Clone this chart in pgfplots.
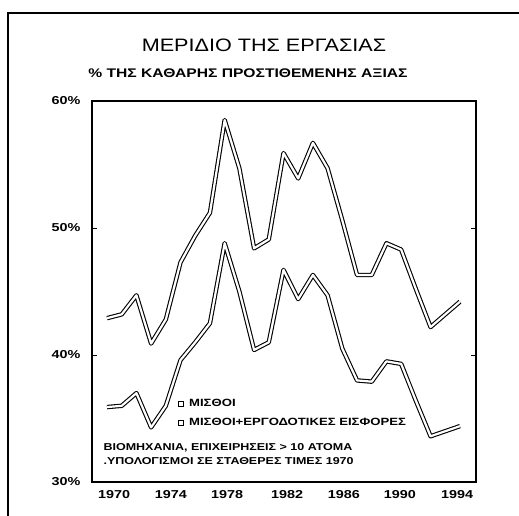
\documentclass[border=0pt]{standalone}
\usepackage{fontspec}
\setmainfont{Liberation Sans}
\newfontfamily\wide[FakeStretch=1.25]{Liberation Sans}
\newfontfamily\widet[FakeStretch=1.2]{Liberation Sans}
\usepackage{pgfplots}
\pgfplotsset{compat=1.18}
\begin{document}
\begin{tikzpicture}[x=1pt,y=1pt]
\useasboundingbox (0,0) rectangle (519,516);
\draw[line width=1.6pt] (8,0) -- (8,503) -- (519,503);
\node[font=\widet\fontsize{18}{20}\selectfont] at (264,471) {ΜΕΡΙΔΙΟ ΤΗΣ ΕΡΓΑΣΙΑΣ};
\node[font=\wide\bfseries\fontsize{12.5}{14}\selectfont] at (248,443) {\% ΤΗΣ ΚΑΘΑΡΗΣ ΠΡΟΣΤΙΘΕΜΕΝΗΣ ΑΞΙΑΣ};
\begin{axis}[
  at={(92pt,34pt)}, anchor=south west,
  scale only axis, width=384pt, height=381pt,
  xmin=1968.98, xmax=1995.09, ymin=30, ymax=60,
  axis line style={line width=1.3pt},
  xtick={1970.48,1974.35,1978.16,1982.24,1986.11,1989.92,1993.8},
  xticklabels={1970,1974,1978,1982,1986,1990,1994},
  xtick style={draw=none},
  minor xtick={1970,1971,...,1994},
  minor tick length=3pt,
  ytick={30,40,50,60},
  yticklabels={30\%,40\%,50\%,60\%},
  major tick length=5pt,
  tick align=inside,
  tick style={black, line width=0.8pt},
  /pgf/number format/assume math mode=true,
  ticklabel style={font=\wide\bfseries\fontsize{11.5}{13}\selectfont},
  xticklabel style={yshift=-5pt},
  yticklabel style={xshift=-8pt},
  legend cell align=left,
  legend style={draw=none, fill=none, at={(0.215,0.228)}, anchor=north west,
    font=\wide\bfseries\fontsize{10.5}{12}\selectfont, row sep=6pt},
]
\addlegendimage{black, line width=0.8pt, legend image code/.code={\draw[black, line width=0.8pt, fill=white] (0pt,-2.5pt) rectangle (5pt,2.5pt); \path[draw=none] (0pt,0pt) -- (9pt,0pt);}}
\addlegendentry{ΜΙΣΘΟΙ}
\addlegendimage{black, line width=0.8pt, legend image code/.code={\draw[black, line width=0.8pt, fill=white] (0pt,-2.5pt) rectangle (5pt,2.5pt); \path[draw=none] (0pt,0pt) -- (9pt,0pt);}}
\addlegendentry{ΜΙΣΘΟΙ+ΕΡΓΟΔΟΤΙΚΕΣ ΕΙΣΦΟΡΕΣ}
\addplot[forget plot, black, line width=1.1pt, double=white, double distance=2.2pt, line join=round] coordinates {
(1970,35.9) (1971,36.0) (1972,37.0) (1973,34.3) (1974,36.0) (1975,39.6) (1976,41.0) (1977,42.5)
(1978,48.8) (1979,45.0) (1980,40.4) (1981,41.0) (1982,46.7) (1983,44.4) (1984,46.3) (1985,44.7)
(1986,40.5) (1987,38.0) (1988,37.9) (1989,39.5) (1990,39.3) (1991,36.4) (1992,33.6) (1993,34.0)
(1994,34.4)};
\addplot[forget plot, black, line width=1.1pt, double=white, double distance=2.2pt, line join=round] coordinates {
(1970,42.9) (1971,43.2) (1972,44.7) (1973,40.9) (1974,42.8) (1975,47.3) (1976,49.4) (1977,51.2)
(1978,58.5) (1979,54.7) (1980,48.4) (1981,49.1) (1982,55.9) (1983,53.9) (1984,56.7) (1985,54.7)
(1986,50.6) (1987,46.3) (1988,46.3) (1989,48.8) (1990,48.3) (1991,45.2) (1992,42.2) (1993,43.2)
(1994,44.2)};
\end{axis}
\node[anchor=west, font=\wide\bfseries\fontsize{10}{11}\selectfont] at (100,68) {ΒΙΟΜΗΧΑΝΙΑ, ΕΠΙΧΕΙΡΗΣΕΙΣ > 10 ΑΤΟΜΑ};
\node[anchor=west, font=\wide\bfseries\fontsize{10}{11}\selectfont] at (100,55) {.ΥΠΟΛΟΓΙΣΜΟΙ ΣΕ ΣΤΑΘΕΡΕΣ ΤΙΜΕΣ 1970};
\end{tikzpicture}
\end{document}
